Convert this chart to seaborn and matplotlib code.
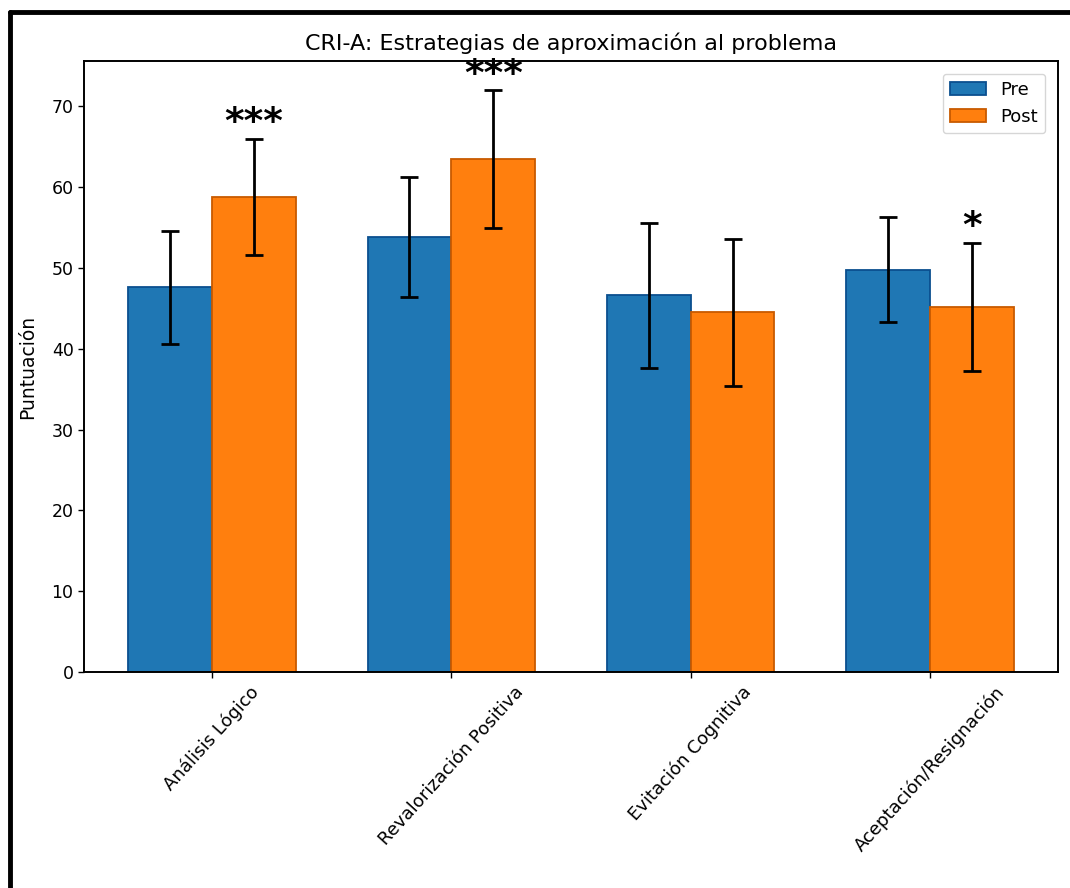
import numpy as np
import pandas as pd
import matplotlib
matplotlib.use("Agg")
import matplotlib.pyplot as plt
from matplotlib.lines import Line2D
import seaborn as sns

# CRI-A approach strategies: mean scores and standard deviations, pre vs post
categories = ["Análisis Lógico", "Revalorización Positiva", "Evitación Cognitiva", "Aceptación/Resignación"]
groups = ["Pre", "Post"]
pre_mean = [47.6, 53.8, 46.6, 49.8]
pre_sd = [7.0, 7.4, 9.0, 6.5]
post_mean = [58.8, 63.5, 44.5, 45.2]
post_sd = [7.2, 8.5, 9.1, 7.9]
significance = ["***", "***", "", "*"]

title = "CRI-A: Estrategias de aproximación al problema"
ylabel = "Puntuación"
yticks = [0, 10, 20, 30, 40, 50, 60, 70]

df = pd.DataFrame({
    "Estrategia": categories * 2,
    "Momento": [groups[0]] * len(categories) + [groups[1]] * len(categories),
    "Media": pre_mean + post_mean,
    "DE": pre_sd + post_sd,
})

sns.set_theme(style="ticks", rc={
    "axes.edgecolor": "black",
    "axes.linewidth": 1.4,
    "text.color": "black",
    "axes.labelcolor": "black",
    "xtick.color": "black",
    "ytick.color": "black",
    "xtick.major.width": 1.0,
    "ytick.major.width": 1.0,
    "xtick.major.size": 4,
    "ytick.major.size": 4,
})
plt.rcParams["font.family"] = ["DejaVu Sans"]

fig = plt.figure(figsize=(10.70, 8.88), dpi=100)
ax = fig.add_axes([0.0785, 0.2432, 0.9103, 0.6881])

colors = ["#1f77b4", "#ff7f0e"]
edges = ["#0b4f8f", "#c85a00"]
width = 0.7
sns.barplot(data=df, x="Estrategia", y="Media", hue="Momento", hue_order=groups,
            palette=colors, width=width, errorbar=None, ax=ax, saturation=1)

# darker outline for each series
for container, ec in zip(ax.containers, edges):
    for bar in container:
        bar.set_edgecolor(ec)
        bar.set_linewidth(1.3)

x = np.arange(len(categories))
offsets = [-width / 4, width / 4]
for means, sds, off in zip([pre_mean, post_mean], [pre_sd, post_sd], offsets):
    ax.errorbar(x + off, means, yerr=sds, fmt="none", ecolor="black",
                elinewidth=2.0, capsize=6.5, capthick=2.0, zorder=3)

# significance markers above the post bars
for xi, m, s, lab in zip(x, post_mean, post_sd, significance):
    if lab:
        ax.text(xi + width / 4, m + s - 0.3, lab, ha="center", va="bottom",
                fontsize=27, fontweight="bold", color="black")

ax.set_xlim(-0.535, 3.535)
ax.set_ylim(0, 75.6)
ax.set_yticks(yticks)
ax.set_xticks(x)
ax.set_xticklabels(categories, rotation=48, ha="center", fontsize=13)
ax.tick_params(axis="y", labelsize=12.5)
ax.tick_params(axis="x", pad=4)
ax.set_xlabel("")
ax.set_ylabel(ylabel, fontsize=13.5, labelpad=10)
ax.set_title(title, fontsize=16, pad=8)

handles, labels = ax.get_legend_handles_labels()
leg = ax.legend(handles, labels, loc="upper right", fontsize=13, frameon=True,
                edgecolor="#cccccc", fancybox=True, borderaxespad=0.7)
for h, ec in zip(leg.legend_handles, edges):
    h.set_edgecolor(ec)
    h.set_linewidth(1.3)

# black frame along the top and left edges of the figure
fig.add_artist(Line2D([10 / 1070, 10 / 1070], [0, 1 - 12 / 888], transform=fig.transFigure,
                      color="black", linewidth=3.5))
fig.add_artist(Line2D([10 / 1070, 1], [1 - 12 / 888, 1 - 12 / 888], transform=fig.transFigure,
                      color="black", linewidth=3.5))

fig.savefig("out.png", dpi=100, facecolor="white")
